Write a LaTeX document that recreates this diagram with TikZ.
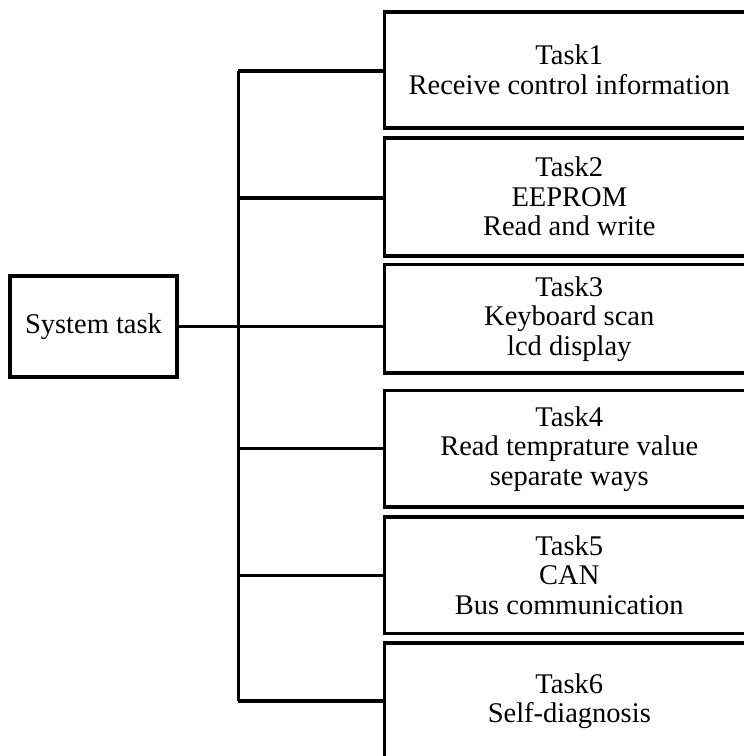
\documentclass[tikz,border=0pt]{standalone}
\usepackage{fontspec}
\setmainfont{Liberation Serif}
\begin{document}
\begin{tikzpicture}[x=1pt,y=-1pt,
  line width=3.6pt,
  taskbox/.style={draw, rectangle, inner sep=0pt, minimum width=370pt,
    align=center, font=\fontsize{28.5}{29.5}\selectfont},
  rootbox/.style={draw, rectangle, inner sep=0pt, minimum width=167pt,
    minimum height=101pt, font=\fontsize{28.5}{29.5}\selectfont}]
\useasboundingbox (0,0) rectangle (744,756);
\clip (0,0) rectangle (744,756);

% root
\node[rootbox] (sys) at (93.5,326.5) {System task};

% task boxes
\node[taskbox, minimum height=115.7pt] (t1) at (569.3,69.9)
  {Task1\\Receive control information};
\node[taskbox, minimum height=118pt] (t2) at (569.3,196.7)
  {Task2\\EEPROM\\Read and write};
\node[taskbox, minimum height=108.7pt] (t3) at (569.3,318.7)
  {Task3\\Keyboard scan\\lcd display};
\node[taskbox, minimum height=116.7pt] (t4) at (569.3,448.7)
  {Task4\\Read temprature value\\separate ways};
\node[taskbox, minimum height=116.3pt] (t5) at (569.3,575.2)
  {Task5\\CAN\\Bus communication};
\node[taskbox, minimum height=116.6pt] (t6) at (569.3,701)
  {Task6\\Self-diagnosis};

% trunk
\coordinate (top) at (238.3,71);
\coordinate (bot) at (238.3,701);
\draw (top) -- (bot);

% branches
\draw (sys.east) -- (t3.west |- sys.east);
\draw (top) -- (t1.west |- top);
\draw (238.3,197.7) -- (t2.west |- 0,197.7);
\draw (238.3,448.3) -- (t4.west |- 0,448.3);
\draw (238.3,575.3) -- (t5.west |- 0,575.3);
\draw (bot) -- (t6.west |- bot);
\end{tikzpicture}
\end{document}
